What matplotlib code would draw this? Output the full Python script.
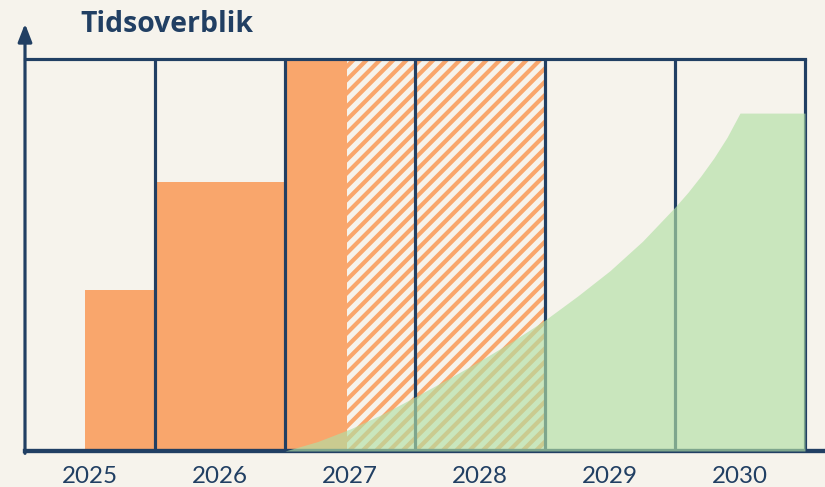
import matplotlib
matplotlib.use("Agg")
import matplotlib.pyplot as plt

# data
years = ["2025", "2026", "2027", "2028", "2029", "2030"]
# solid bars: start (in years from 2025), end, height
solid_start = [0.46, 1.0, 2.0]
solid_end = [1.0, 2.0, 2.48]
solid_height = [41, 68.6, 100]
# hatched (planned) part
hatch_start = 2.48
hatch_end = 4.0
hatch_height = 100
# green area
curve_x = [2.0, 2.25, 2.5, 2.75, 3.0, 3.25, 3.5, 3.75, 4.0, 4.25, 4.5, 4.75,
           5.0, 5.1, 5.2, 5.3, 5.4, 5.5, 6.0]
curve_y = [0, 2.4, 5.6, 9.4, 13.8, 18.3, 23, 28, 33.4, 39.5, 46, 53.5,
           62.2, 66, 70.2, 74.8, 80, 86.2, 86.2]

bg = "#F6F3EC"
navy = "#213F63"
orange = "#F9A66C"
green = "#B1DFA4"

plt.rcParams["hatch.linewidth"] = 2.5

fig = plt.figure(figsize=(825 / 120, 487 / 120), dpi=120, facecolor=bg)
ax = fig.add_axes([25 / 825, 36 / 487, 780 / 825, 392 / 487])
ax.set_xlim(0, 6)
ax.set_ylim(0, 100)
ax.axis("off")

for s, e, h in zip(solid_start, solid_end, solid_height):
    ax.bar(s, h + 1, bottom=-1, width=e - s, align="edge", color=orange, lw=0, zorder=1)
ax.bar(hatch_start, hatch_height, width=hatch_end - hatch_start, align="edge",
       facecolor="none", edgecolor=orange, hatch="///", lw=0, zorder=1)

# frame and year dividers
for i in range(1, len(years) + 1):
    ax.plot([i, i], [0, 100], color=navy, lw=1.9, zorder=2, solid_capstyle="butt", clip_on=False)
ax.plot([0, 6], [100, 100], color=navy, lw=1.9, zorder=2, clip_on=False)
ax.plot([0, 6.16], [0, 0], color=navy, lw=2.6, zorder=3, clip_on=False)
ax.annotate("", xy=(0, 109), xytext=(0, -0.6), xycoords="data", annotation_clip=False,
            arrowprops=dict(arrowstyle="-|>,head_length=0.9,head_width=0.35", color=navy, lw=1.9,
                            shrinkA=0, shrinkB=0), zorder=3)

ax.fill_between(curve_x, 0, curve_y, color=green, alpha=0.65, lw=0, zorder=4)

for i, y in enumerate(years):
    ax.text(i + 0.5, -6.6, y, ha="center", va="center", color=navy, fontsize=14.5,
            family="Lato", clip_on=False)

fig.text(80 / 825, 1 - 25 / 487, "Tidsoverblik", ha="left", va="center", color=navy,
         fontsize=17, fontweight="bold", family="Open Sans")

fig.savefig("out.png", dpi=120, facecolor=bg)
